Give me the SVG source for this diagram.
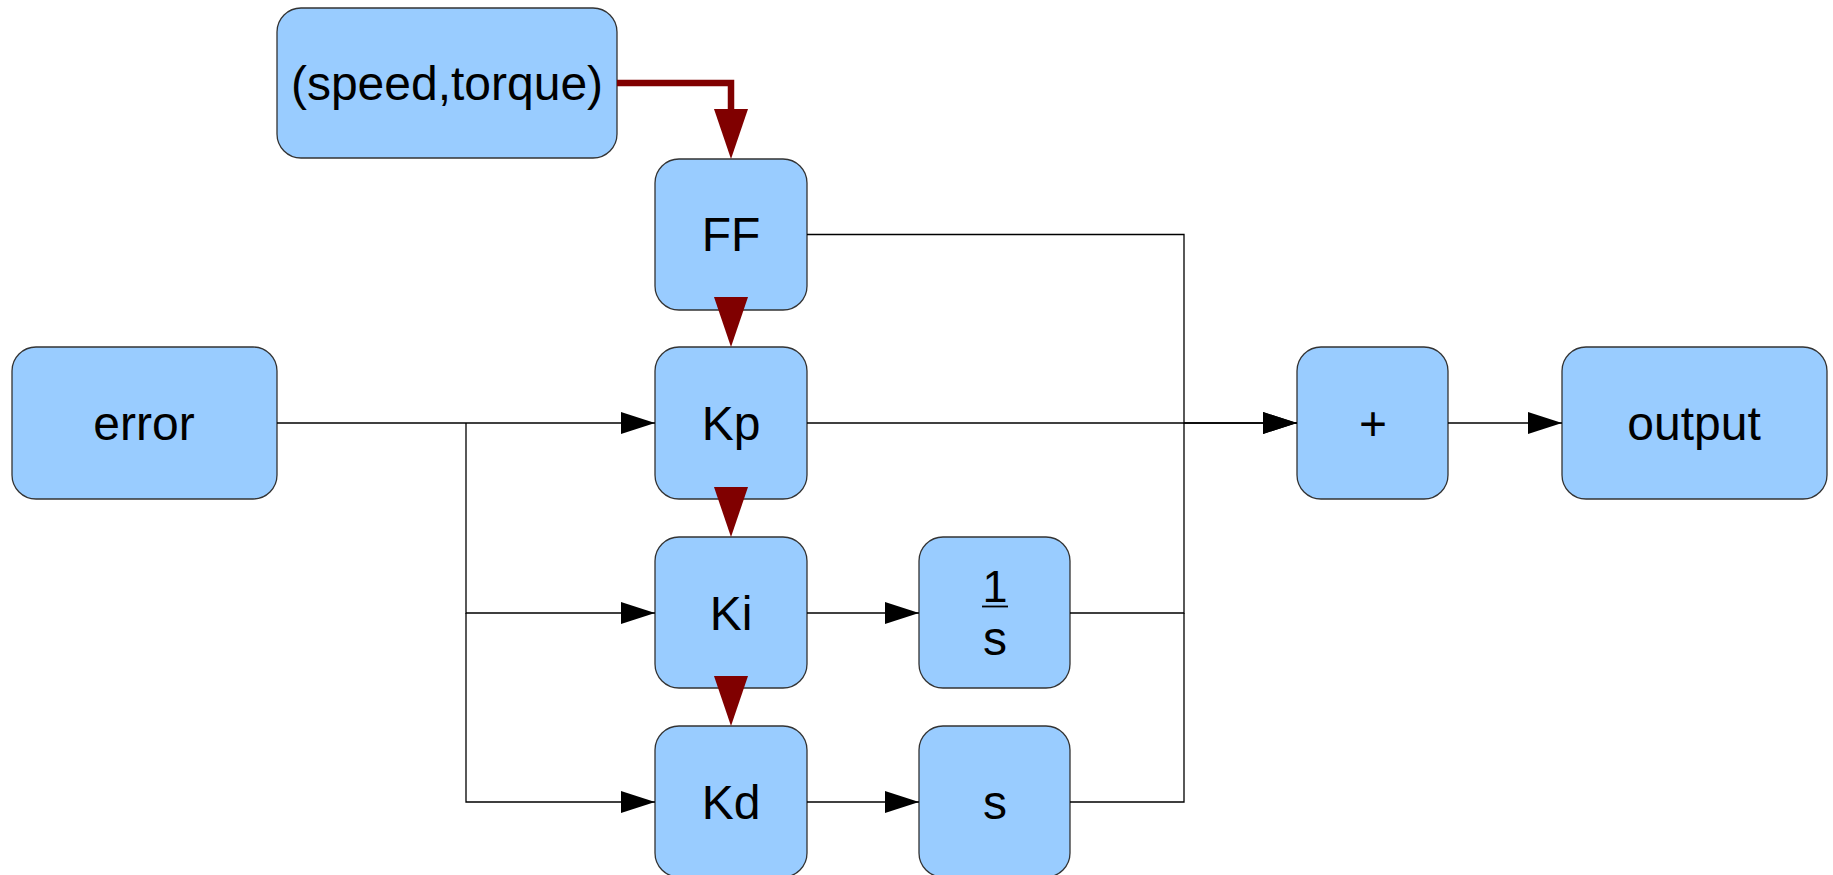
<svg xmlns="http://www.w3.org/2000/svg" width="1833" height="875" viewBox="0 0 1833 875">
  <style>
    .box { fill: #99ccff; stroke: #333333; stroke-width: 1.3; }
    .lbl { font-family: "Liberation Sans", Arial, sans-serif; font-size: 48px; fill: #000000; text-anchor: middle; }
    .sig { fill: none; stroke: #000000; stroke-width: 1.3; }
    .sched { fill: none; stroke: #800000; stroke-width: 6.5; }
    .sched-short { fill: none; stroke: none; }
  </style>
  <defs>
    <marker id="arrowBlack" markerUnits="userSpaceOnUse" markerWidth="34" markerHeight="22" refX="34" refY="11" orient="auto">
      <path d="M0,0 L34,11 L0,22 z" fill="#000000"/>
    </marker>
    <!-- tip anchored at the end of the path -->
    <marker id="arrowRed" markerUnits="userSpaceOnUse" markerWidth="50" markerHeight="34" refX="50" refY="17" orient="auto">
      <path d="M0,0 L50,17 L0,34 z" fill="#800000"/>
    </marker>
    <!-- base anchored at the end of the path, so the thick stroke stops at the head -->
    <marker id="arrowRedBase" markerUnits="userSpaceOnUse" markerWidth="50" markerHeight="34" refX="0" refY="17" orient="auto">
      <path d="M0,0 L50,17 L0,34 z" fill="#800000"/>
    </marker>
  </defs>
  <rect width="1833" height="875" fill="#ffffff"/>

  <g id="speed-torque">
    <rect class="box" x="277" y="8" width="340" height="150" rx="24" ry="24"/>
    <text class="lbl" x="447" y="99.5">(speed,torque)</text>
  </g>
  <g id="ff">
    <rect class="box" x="655" y="159" width="152" height="151" rx="24" ry="24"/>
    <text class="lbl" x="731" y="251">FF</text>
  </g>
  <g id="error">
    <rect class="box" x="12" y="347" width="265" height="152" rx="24" ry="24"/>
    <text class="lbl" x="144" y="440">error</text>
  </g>
  <g id="kp">
    <rect class="box" x="655" y="347" width="152" height="152" rx="24" ry="24"/>
    <text class="lbl" x="731" y="440">Kp</text>
  </g>
  <g id="ki">
    <rect class="box" x="655" y="537" width="152" height="151" rx="24" ry="24"/>
    <text class="lbl" x="731" y="630">Ki</text>
  </g>
  <g id="integrator">
    <rect class="box" x="919" y="537" width="151" height="151" rx="24" ry="24"/>
    <text class="lbl" x="995" y="602" style="font-size:45px">1</text>
    <line x1="982" y1="606.5" x2="1008" y2="606.5" stroke="#000000" stroke-width="1.8"/>
    <text class="lbl" x="995" y="655">s</text>
  </g>
  <g id="kd">
    <rect class="box" x="655" y="726" width="152" height="151" rx="24" ry="24"/>
    <text class="lbl" x="731" y="819">Kd</text>
  </g>
  <g id="derivative">
    <rect class="box" x="919" y="726" width="151" height="151" rx="24" ry="24"/>
    <text class="lbl" x="995" y="819">s</text>
  </g>
  <g id="sum">
    <rect class="box" x="1297" y="347" width="151" height="152" rx="24" ry="24"/>
    <text class="lbl" x="1373" y="440">+</text>
  </g>
  <g id="output">
    <rect class="box" x="1562" y="347" width="265" height="152" rx="24" ry="24"/>
    <text class="lbl" x="1694" y="440">output</text>
  </g>

  <g id="connectors">
    <!-- error fan-out to the three gains -->
    <path class="sig" d="M277,423 H655" marker-end="url(#arrowBlack)"/>
    <path class="sig" d="M466,423 V613 H655" marker-end="url(#arrowBlack)"/>
    <path class="sig" d="M466,613 V802 H655" marker-end="url(#arrowBlack)"/>
    <!-- gains into integrator / differentiator -->
    <path class="sig" d="M807,613 H919" marker-end="url(#arrowBlack)"/>
    <path class="sig" d="M807,802 H919" marker-end="url(#arrowBlack)"/>
    <!-- summing bus -->
    <path class="sig" d="M807,234.5 H1184 V423 H1297" marker-end="url(#arrowBlack)"/>
    <path class="sig" d="M807,423 H1297" marker-end="url(#arrowBlack)"/>
    <path class="sig" d="M1070,613 H1184 V423"/>
    <path class="sig" d="M1070,802 H1184 V613"/>
    <path class="sig" d="M1448,423 H1562" marker-end="url(#arrowBlack)"/>
    <!-- gain scheduling chain -->
    <path class="sched" d="M617,83 H731 V109" marker-end="url(#arrowRedBase)"/>
    <path class="sched-short" d="M731,310 V347" marker-end="url(#arrowRed)"/>
    <path class="sched-short" d="M731,499 V537" marker-end="url(#arrowRed)"/>
    <path class="sched-short" d="M731,688 V726" marker-end="url(#arrowRed)"/>
  </g>
</svg>
